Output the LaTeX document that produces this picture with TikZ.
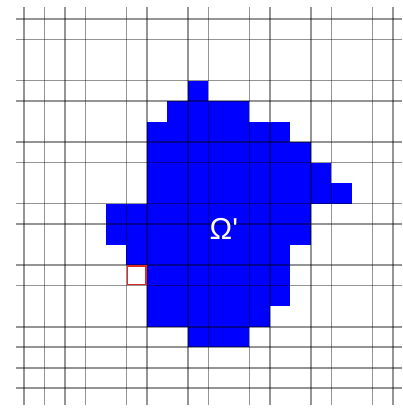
\documentclass[tikz,border=0pt]{standalone}
\usepackage{fontspec}
\usepackage{tikz}
\newfontfamily\omegafont{Liberation Sans}
\definecolor{domainblue}{RGB}{0,0,255}
\definecolor{markred}{RGB}{225,40,40}

\begin{document}
\begin{tikzpicture}[
    x=0.5cm, y=0.5cm,
    gridline/.style={line width=1.3pt, black, opacity=0.42},
    cellfill/.style={fill=domainblue},
    marked/.style={draw=markred, line width=1.3pt}
]
\useasboundingbox (-1.17,-1.07) rectangle (18.44,18.93);

% domain cells, row by row (row index from the top)
\foreach \r/\a/\b in {3/8/8, 4/7/10, 5/6/12, 6/6/13, 7/6/14, 8/6/15, 9/4/13,
                      10/4/13, 11/5/12, 12/6/12, 13/6/12, 14/6/11, 15/8/10}
    \fill[cellfill] (\a,{17-\r}) rectangle ({\b+1},{18-\r});

% coarse grid
\foreach \k in {0,1,2,3,5,6,8,9,11,12,14,15,17,18} {
    \draw[gridline] (\k,-0.85) -- (\k,18.6);
    \draw[gridline] (-0.4,\k) -- (18.44,\k);
}

\draw[marked] (5.05,5.05) rectangle (5.95,5.95);

\node[text=white, font=\omegafont\fontsize{21}{25}\selectfont] (omega) at (9.75,7.76) {Ω\textquotesingle};
\end{tikzpicture}
\end{document}
